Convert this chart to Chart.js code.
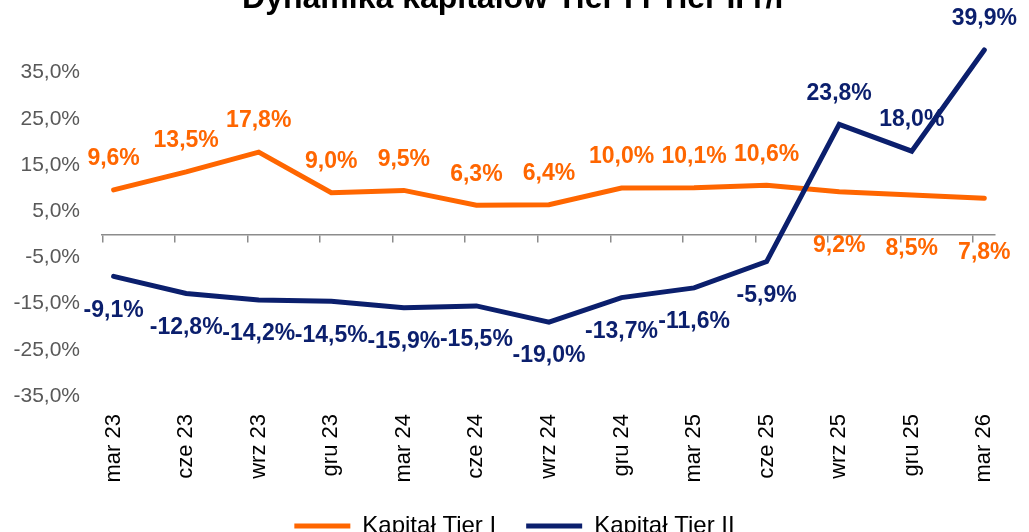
<!DOCTYPE html>
<html>
<head>
<meta charset="utf-8">
<script src="https://cdn.jsdelivr.net/npm/chart.js@4.4.1/dist/chart.umd.min.js"></script>
<style>
  html, body { margin: 0; padding: 0; background: #fff; overflow: hidden; width: 1029px; height: 532px; }
  #wrap { position: absolute; left: 0; top: -30px; width: 1029px; height: 578px; }
</style>
</head>
<body>
<div id="wrap"><canvas id="chart"></canvas></div>
<script>
// Quarterly categories and year-on-year dynamics (%)
const categories = ['mar 23', 'cze 23', 'wrz 23', 'gru 23', 'mar 24', 'cze 24', 'wrz 24',
                    'gru 24', 'mar 25', 'cze 25', 'wrz 25', 'gru 25', 'mar 26'];
const tierOne = [9.6, 13.5, 17.8, 9.0, 9.5, 6.3, 6.4, 10.0, 10.1, 10.6, 9.2, 8.5, 7.8];
const tierTwo = [-9.1, -12.8, -14.2, -14.5, -15.9, -15.5, -19.0, -13.7, -11.6, -5.9, 23.8, 18.0, 39.9];
const yTickValues = [-35, -25, -15, -5, 5, 15, 25, 35];

const FONT = "'Liberation Sans', Arial, Helvetica, sans-serif";
const ORANGE = '#ff6600';
const NAVY = '#0b1f6d';
const AXIS_GREY = '#8c8c8c';

const X_MIN = -0.16;
const X_MAX = 12.14;
const TICK_SHIFT = -0.155;

Chart.defaults.font.family = FONT;

const fmt = v => v.toFixed(1).replace('.', ',') + '%';

// Value labels drawn next to every point of both series
const valueLabels = {
  id: 'valueLabels',
  afterDatasetsDraw(chart) {
    const ctx = chart.ctx;
    ctx.save();
    ctx.font = 'bold 23px ' + FONT;
    ctx.textAlign = 'center';
    ctx.textBaseline = 'middle';
    chart.data.datasets.forEach((ds, di) => {
      const meta = chart.getDatasetMeta(di);
      const other = chart.data.datasets[1 - di];
      meta.data.forEach((pt, i) => {
        const v = ds.data[i].y;
        const ov = other.data[i].y;
        let dy;
        if (di === 0) {
          // Tier I labels go under the line where Tier II runs above it
          dy = ov > v ? 54 : -31;
        } else {
          dy = v < 0 ? 34 : -31;
        }
        ctx.fillStyle = ds.borderColor;
        ctx.fillText(fmt(v), pt.x, pt.y + dy);
      });
    });
    ctx.restore();
  }
};

new Chart(document.getElementById('chart'), {
  type: 'line',
  data: {
    datasets: [
      {
        label: 'Kapitał Tier I',
        data: tierOne.map((v, i) => ({ x: i, y: v })),
        borderColor: ORANGE,
        backgroundColor: ORANGE,
        borderWidth: 5,
        borderCapStyle: 'round',
        pointRadius: 0,
        tension: 0,
        order: 2,
        xAxisID: 'x',
        yAxisID: 'y'
      },
      {
        label: 'Kapitał Tier II',
        data: tierTwo.map((v, i) => ({ x: i, y: v })),
        borderColor: NAVY,
        backgroundColor: NAVY,
        borderWidth: 5,
        borderCapStyle: 'round',
        pointRadius: 0,
        tension: 0,
        order: 1,
        xAxisID: 'x',
        yAxisID: 'y'
      }
    ]
  },
  options: {
    responsive: true,
    maintainAspectRatio: false,
    animation: false,
    devicePixelRatio: 1,
    layout: { padding: 0 },
    scales: {
      y: {
        type: 'linear',
        position: 'left',
        min: -35,
        max: 45,
        afterBuildTicks: s => { s.ticks = yTickValues.map(v => ({ value: v })); },
        afterFit: s => { s.width = 102; },
        grid: { display: false, drawTicks: false },
        border: { display: false },
        ticks: {
          color: '#595959',
          font: { size: 21 },
          padding: 22,
          callback: v => fmt(v)
        }
      },
      // empty right-hand axis keeping a margin beside the plot
      yRight: {
        type: 'linear',
        position: 'right',
        axis: 'y',
        min: -35,
        max: 45,
        afterFit: s => { s.width = 26; },
        grid: { display: false, drawTicks: false },
        border: { display: false },
        ticks: { display: false }
      },
      x: {
        type: 'linear',
        position: { y: 0 },
        min: X_MIN,
        max: X_MAX,
        afterBuildTicks: s => { s.ticks = categories.map((c, i) => ({ value: i + TICK_SHIFT })); },
        grid: {
          display: true,
          drawOnChartArea: false,
          drawTicks: true,
          tickLength: 7,
          color: AXIS_GREY,
          lineWidth: 1.5
        },
        border: { display: true, color: AXIS_GREY, width: 1.5 },
        ticks: { display: false }
      },
      xLabels: {
        type: 'linear',
        axis: 'x',
        position: 'bottom',
        min: X_MIN,
        max: X_MAX,
        afterBuildTicks: s => { s.ticks = categories.map((c, i) => ({ value: i })); },
        afterFit: s => { s.height = 88; },
        grid: { display: false, drawTicks: false },
        border: { display: false },
        ticks: {
          autoSkip: false,
          minRotation: 90,
          maxRotation: 90,
          padding: 18,
          color: '#000',
          font: { size: 22 },
          callback: (v, i) => categories[i]
        }
      }
    },
    plugins: {
      title: {
        display: true,
        text: 'Dynamika kapitałów Tier I i Tier II r/r',
        color: '#000',
        font: { size: 32, weight: 'bold' },
        padding: { top: 10, bottom: 8 }
      },
      legend: {
        display: true,
        position: 'bottom',
        labels: {
          usePointStyle: true,
          pointStyle: 'line',
          pointStyleWidth: 56,
          color: '#000',
          font: { size: 24 },
          padding: 30,
          sort: (a, b) => a.datasetIndex - b.datasetIndex
        }
      },
      tooltip: { enabled: false }
    }
  },
  plugins: [valueLabels]
});
</script>
</body>
</html>
